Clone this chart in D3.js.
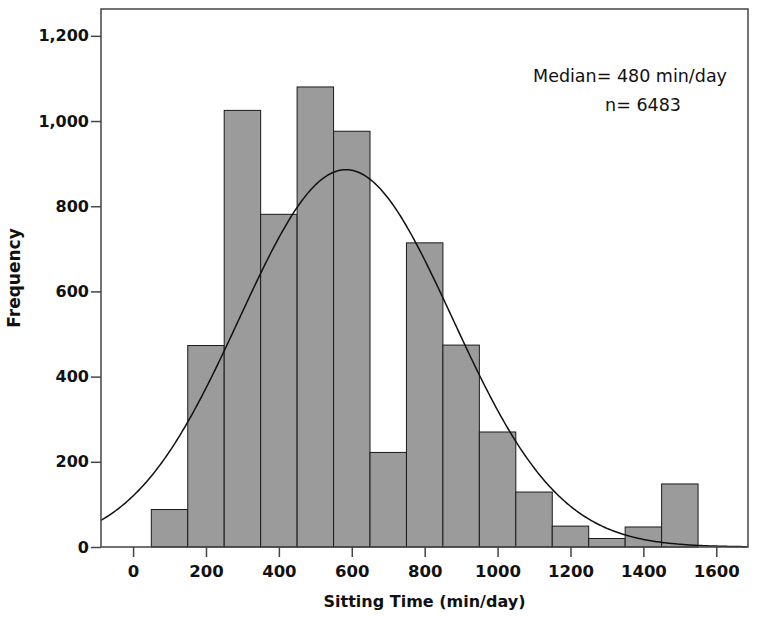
<!DOCTYPE html>
<html>
<head>
<meta charset="utf-8">
<script src="https://cdn.jsdelivr.net/npm/d3@7"></script>
<style>
  body { margin: 0; background: #fff; }
  svg text { font-family: "DejaVu Sans", sans-serif; }
</style>
</head>
<body>
<div id="chart"></div>
<script>
// histogram bins (min/day), width 100
var binStarts = [50, 150, 250, 350, 450, 550, 650, 750, 850, 950, 1050, 1150, 1250, 1350, 1450];
var binWidth = 100;
var counts = [88, 473, 1025, 781, 1080, 976, 222, 714, 474, 270, 129, 49, 20, 47, 148];

// fitted normal curve parameters
var fitMean = 584, fitSd = 292, fitN = 6483;

var xTicks = [0, 200, 400, 600, 800, 1000, 1200, 1400, 1600];
var yTicks = [0, 200, 400, 600, 800, 1000, 1200];

var annotation = ["Median= 480 min/day", "n= 6483"];

var W = 757, H = 617;
var margin = { top: 9, right: 9, bottom: 70, left: 101 },
    width = W - margin.left - margin.right,
    height = H - margin.top - margin.bottom;

var svg = d3.select("#chart").append("svg")
    .attr("width", W)
    .attr("height", H);

var g = svg.append("g")
    .attr("transform", "translate(" + margin.left + "," + margin.top + ")");

var x = d3.scaleLinear().domain([-88, 1687]).range([0, width]);
var y = d3.scaleLinear().domain([0, 1263]).range([height, 0]);

// bars
g.selectAll("rect.bar")
    .data(counts)
    .enter().append("rect")
    .attr("class", "bar")
    .attr("x", function(d, i) { return x(binStarts[i]); })
    .attr("width", function(d, i) { return x(binStarts[i] + binWidth) - x(binStarts[i]); })
    .attr("y", function(d) { return y(d); })
    .attr("height", function(d) { return y(0) - y(d); })
    .style("fill", "#9b9b9b")
    .style("stroke", "#1a1a1a")
    .style("stroke-width", 1);

// normal curve
var xs = d3.range(-88, 1688, 4);
var amp = fitN * binWidth / (fitSd * Math.sqrt(2 * Math.PI));
var line = d3.line()
    .x(function(v) { return x(v); })
    .y(function(v) { return y(amp * Math.exp(-0.5 * Math.pow((v - fitMean) / fitSd, 2))); });

g.append("path")
    .datum(xs)
    .attr("d", line)
    .style("fill", "none")
    .style("stroke", "#111")
    .style("stroke-width", 1.5);

// frame
g.append("rect")
    .attr("width", width)
    .attr("height", height)
    .style("fill", "none")
    .style("stroke", "#444")
    .style("stroke-width", 1.5);

// axes
var xAxis = g.append("g")
    .attr("transform", "translate(0," + height + ")")
    .call(d3.axisBottom(x).tickValues(xTicks).tickSize(10).tickPadding(8).tickFormat(d3.format("d")));

var yAxis = g.append("g")
    .call(d3.axisLeft(y).tickValues(yTicks).tickSize(10).tickPadding(2).tickFormat(d3.format(",")));

[xAxis, yAxis].forEach(function(a) {
    a.select(".domain").remove();
    a.selectAll("line").style("stroke", "#444").style("stroke-width", 1.5);
    a.selectAll("text")
        .style("font-family", "'DejaVu Sans', sans-serif")
        .style("font-weight", "bold")
        .style("fill", "#111");
});
xAxis.selectAll("text").style("font-size", "16.5px");
yAxis.selectAll("text").style("font-size", "16px");

// axis titles
svg.append("text")
    .attr("x", margin.left + width / 2)
    .attr("y", 607)
    .attr("text-anchor", "middle")
    .style("font-size", "16px")
    .style("font-weight", "bold")
    .style("fill", "#111")
    .text("Sitting Time (min/day)");

svg.append("text")
    .attr("transform", "translate(20," + (margin.top + height / 2) + ") rotate(-90)")
    .attr("text-anchor", "middle")
    .style("font-size", "17px")
    .style("font-weight", "bold")
    .style("fill", "#111")
    .text("Frequency");

// annotation
svg.selectAll("text.note")
    .data(annotation)
    .enter().append("text")
    .attr("class", "note")
    .attr("x", function(d, i) { return i === 0 ? 630 : 643; })
    .attr("y", function(d, i) { return 82 + i * 29; })
    .attr("text-anchor", "middle")
    .style("font-size", "17.5px")
    .style("fill", "#111")
    .text(function(d) { return d; });
</script>
</body>
</html>
